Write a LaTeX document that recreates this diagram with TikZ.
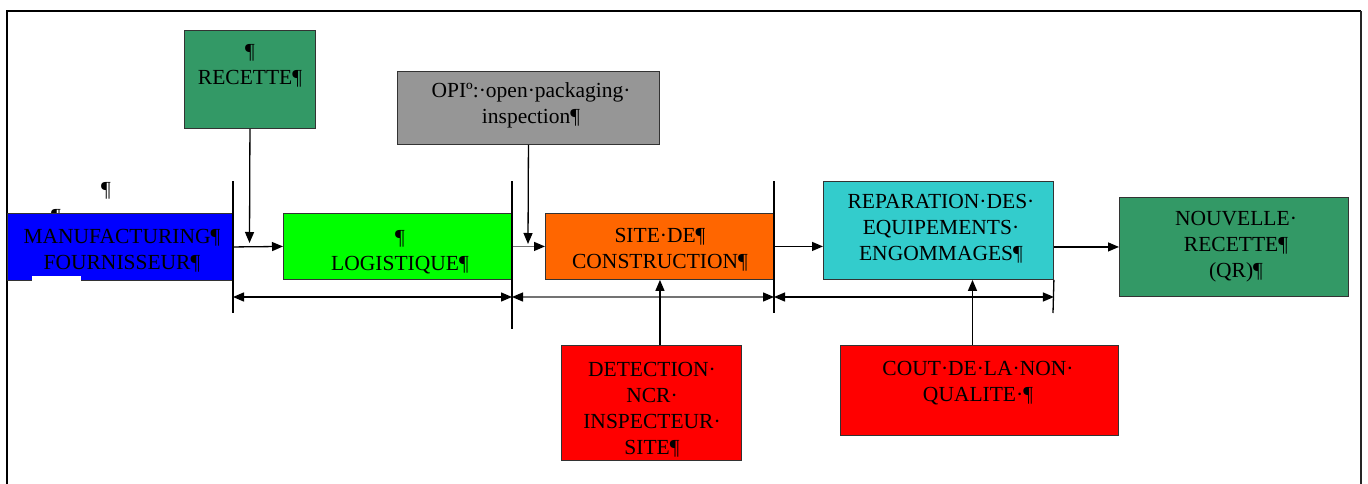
\documentclass[tikz,border=0pt]{standalone}
\usepackage{fontspec}
\setmainfont{Liberation Serif}
\usetikzlibrary{arrows.meta,calc}
\definecolor{recgreen}{HTML}{339966}
\definecolor{opigray}{HTML}{969696}
\definecolor{manblue}{HTML}{0000FF}
\definecolor{loggreen}{HTML}{00FF00}
\definecolor{siteorange}{HTML}{FF6600}
\definecolor{repteal}{HTML}{33CCCC}
\definecolor{ncrred}{HTML}{FF0000}
\begin{document}
\begin{tikzpicture}[x=1pt,y=-1pt,
  box/.style={draw=black!80, line width=0.9pt, anchor=north west, inner sep=0pt},
  txt/.style={anchor=base, align=center, inner sep=0pt, font=\fontsize{21.5}{26}\selectfont},
  link/.style={line width=1.3pt, -{Triangle[length=11pt,width=9pt,color=black]}},
  span/.style={line width=1.3pt, {Triangle[length=11pt,width=9pt,color=black]}-{Triangle[length=11pt,width=9pt,color=black]}},
  tick/.style={line width=1.3pt}]
\useasboundingbox (0,0) rectangle (1368,484);

% page frame
\draw[line width=2.6pt] (7,484) -- (7,11) -- (1361,11);
\draw[line width=2pt, black!85] (1361,11) -- (1361,484);

% paragraph marks around the supplier box
\node[txt] (pil1) at (106,196) {¶};
\node[txt] (pil2) at (56,223) {¶};

% boxes
\node[box, fill=recgreen, minimum width=131pt, minimum height=98pt] (recette) at (184,30) {};
\node[box, fill=opigray, minimum width=262pt, minimum height=73pt] (opi) at (397,71) {};
\node[box, fill=manblue, minimum width=226pt, minimum height=67pt] (manuf) at (7,213) {};
\node[box, fill=loggreen, minimum width=229pt, minimum height=66pt] (logi) at (283,213) {};
\node[box, fill=siteorange, minimum width=229pt, minimum height=66pt] (site) at (545,213) {};
\node[box, fill=repteal, minimum width=230pt, minimum height=98pt] (repar) at (823,181) {};
\node[box, fill=recgreen, minimum width=229pt, minimum height=99pt] (nouv) at (1119,197) {};
\node[box, fill=ncrred, minimum width=180pt, minimum height=115pt] (detect) at (561,345) {};
\node[box, fill=ncrred, minimum width=278pt, minimum height=90pt] (cout) at (840,345) {};
\fill[white] (32,276) rectangle (81,282);

% box texts (anchored on the baseline of their last line)
\node[txt] (recette-t) at (250,85) {¶\\RECETTE¶};
\node[txt] (opi-t) at (531,124) {OPIº:·open·packaging·\\inspection¶};
\node[txt] (manuf-t) at (122,269) {MANUFACTURING¶\\FOURNISSEUR¶};
\node[txt] (logi-t) at (400,270) {¶\\LOGISTIQUE¶};
\node[txt] (site-t) at (660,268) {SITE·DE¶\\CONSTRUCTION¶};
\node[txt] (repar-t) at (941,260) {REPARATION·DES·\\EQUIPEMENTS·\\ENGOMMAGES¶};
\node[txt] (nouv-t) at (1236,277) {NOUVELLE·\\RECETTE¶\\(QR)¶};
\node[txt] (detect-t) at (652,454) {DETECTION·\\NCR·\\INSPECTEUR·\\SITE¶};
\node[txt] (cout-t) at (978,401) {COUT·DE·LA·NON·\\QUALITE·¶};

% stage boundaries
\coordinate (b1t) at (233,181); \coordinate (b1b) at (233,313);
\coordinate (b2t) at (512,181); \coordinate (b2b) at (512,329);
\coordinate (b3t) at (774,181); \coordinate (b3b) at (774,313);
\coordinate (b4b) at (1053,313);
\draw[tick] (b1t) -- (b1b);
\draw[tick] (b2t) -- (b2b);
\draw[tick] (b3t) -- (b3b);
\draw[tick] (repar.south east) -- (b4b);

% stage spans
\draw[span] (b1t |- 0,297) -- (b2t |- 0,297);
\draw[span, draw=black!55] (b2t |- 0,297) -- (b3t |- 0,297);
\draw[span] (b3t |- 0,297) -- (repar.south east |- 0,297);

% main flow
\draw[link] (manuf.east) -- (logi.west);
\draw[link, draw=black!55] (logi.east) -- (site.west);
\draw[link] (site.east) -- (site.east -| repar.west);
\draw[link] (repar.east |- nouv.west) -- (nouv.west);

% inputs from above
\coordinate (rtip) at (249.5,243);
\draw[link] (recette.south) -- (rtip);
\coordinate (otip) at (528,244);
\draw[link] (opi.south) -- (otip);

% inputs from below
\draw[link] (site.south |- detect.north) -- (site.south);
\coordinate (cq) at ($(cout.north west)!0.475!(cout.north east)$);
\draw[link] (cq) -- (cq |- repar.south);
\end{tikzpicture}
\end{document}
